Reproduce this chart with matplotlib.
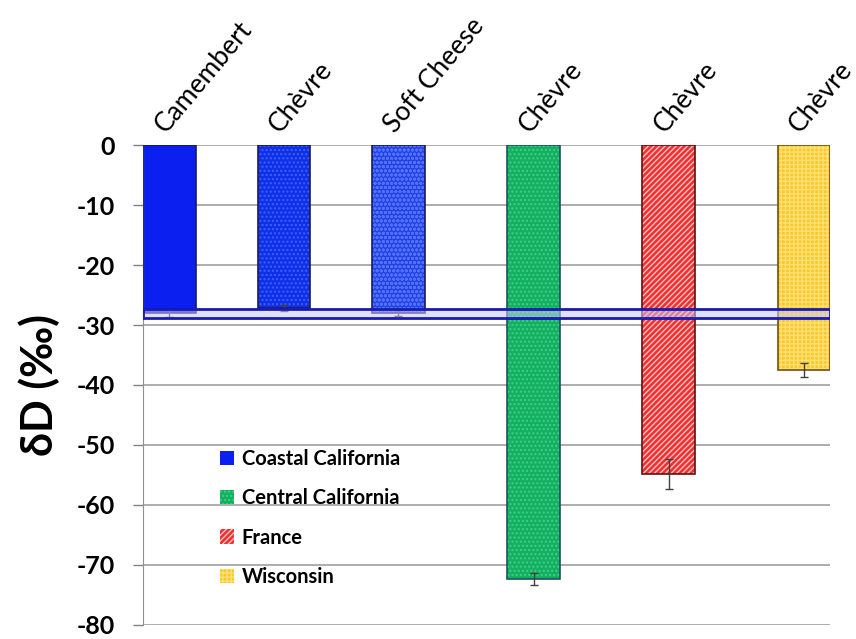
import matplotlib.pyplot as plt

plt.rcParams['font.family'] = ['Lato', 'DejaVu Sans']
plt.rcParams['axes.unicode_minus'] = False
plt.rcParams['hatch.linewidth'] = 1.0

# cheese samples and their hydrogen isotope values
cheeses = ['Camembert', 'Chèvre', 'Soft Cheese', 'Chèvre', 'Chèvre', 'Chèvre']
delta_d = [-28.0, -27.2, -28.0, -72.4, -54.8, -37.5]
errors = [0.6, 0.5, 0.5, 1.0, 2.5, 1.2]
regions = ['Coastal California', 'Coastal California', 'Coastal California',
           'Central California', 'France', 'Wisconsin']
# reference band for the water value
band_low, band_high = -28.8, -27.3

positions = [0, 1, 2, 3.18, 4.36, 5.54]
fills = ['#0a1ff0', '#1030e8', '#2040e0', '#12b060', '#f03030', '#f8c830']
hatch_cols = ['#0a1ff0', '#4060ff', '#5070ff', '#40d080', '#ffc0c0', '#ffe070']
hatches = [None, '....', 'oooo', '....', '//////', '++++']
edges = ['#1a1a60', '#1a1a60', '#1a1a60', '#205060', '#601010', '#705010']
width = 0.46

fig = plt.figure(figsize=(8.56, 6.39), dpi=100)
ax = fig.add_axes([0.167, 0.022, 0.803, 0.751])

handles = {}
for i in range(len(cheeses)):
    b = ax.bar(positions[i], delta_d[i], width, color=fills[i], hatch=hatches[i],
               edgecolor=hatch_cols[i], linewidth=0, zorder=2)
    ax.bar(positions[i], delta_d[i], width, fill=False, edgecolor=edges[i],
           linewidth=1.2, zorder=3)
    if regions[i] not in handles:
        handles[regions[i]] = b[0]

ax.errorbar(positions, delta_d, yerr=errors, fmt='none', ecolor='#404040',
            elinewidth=1, capsize=3, capthick=1, zorder=4)

ax.axhspan(band_low, band_high, facecolor=(0.78, 0.78, 0.97, 0.55),
           edgecolor='#1a1ab0', linewidth=2, zorder=5)

ax.set_ylim(-80, 0)
ax.set_yticks(range(-80, 1, 10))
ax.set_xlim(positions[0] - width / 2, positions[-1] + width / 2)
ax.grid(axis='y', color='#a0a0a0', linewidth=1.2, zorder=0)
ax.set_axisbelow(True)

ax.xaxis.tick_top()
ax.set_xticks(positions)
ax.set_xticklabels(cheeses, rotation=50, ha='left', rotation_mode='anchor',
                   fontsize=19)
ax.tick_params(axis='x', length=0, pad=6)
ax.tick_params(axis='y', labelsize=18, color='#808080', length=7, width=1,
               pad=13)
for lbl in ax.get_yticklabels():
    lbl.set_fontweight('bold')

for side in ['top', 'right', 'bottom']:
    ax.spines[side].set_visible(False)
ax.spines['left'].set_color('#909090')

ax.set_ylabel('δD (‰)', fontsize=31, fontweight='bold', labelpad=12)

leg = ax.legend(list(handles.values()), list(handles.keys()), loc='lower left',
                bbox_to_anchor=(0.085, 0.042), frameon=False, fontsize=14.5,
                handlelength=0.7, handleheight=0.7, labelspacing=0.95,
                handletextpad=0.4)
for t in leg.get_texts():
    t.set_fontweight('bold')

fig.savefig('out.png', dpi=100)
